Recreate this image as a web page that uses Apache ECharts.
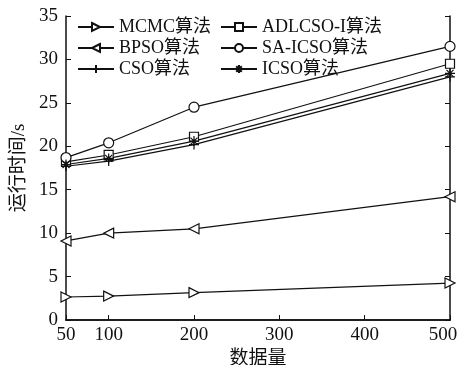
<!DOCTYPE html>
<html><head><meta charset="utf-8">
<script src="https://cdn.jsdelivr.net/npm/echarts@6/dist/echarts.min.js"></script>
<style>html,body{margin:0;padding:0;background:#fff}#c{width:461px;height:365px}</style>
</head><body><div id="c"></div>
<script>
const xValues = [50, 100, 200, 500];
const xTicks = [50, 100, 200, 300, 400, 500];
const yTicks = [0, 5, 10, 15, 20, 25, 30, 35];
const seriesNames = ['MCMC算法', 'ADLCSO-I算法', 'BPSO算法', 'SA-ICSO算法', 'CSO算法', 'ICSO算法'];
const mcmc = [2.65, 2.75, 3.15, 4.25];
const adlcso = [18.2, 19.0, 21.1, 29.5];
const bpso = [9.1, 10.0, 10.5, 14.2];
const saicso = [18.7, 20.4, 24.5, 31.5];
const cso = [17.7, 18.3, 20.2, 28.0];
const icso = [17.9, 18.6, 20.6, 28.4];

const FONT = '"Liberation Serif", "Noto Sans CJK SC", serif';
const sym = {
  'MCMC算法': 'path://M0,0 L10,5 L0,10 Z',
  'BPSO算法': 'path://M10,0 L0,5 L10,10 Z',
  'ADLCSO-I算法': 'rect',
  'SA-ICSO算法': 'circle',
  'CSO算法': 'path://M5,0 L5,10 M0,5 L10,5',
  'ICSO算法': 'path://M5,0 L5,10 M0,5 L10,5 M1.5,1.5 L8.5,8.5 M8.5,1.5 L1.5,8.5'
};
const dataMap = {
  'MCMC算法': mcmc, 'ADLCSO-I算法': adlcso, 'BPSO算法': bpso,
  'SA-ICSO算法': saicso, 'CSO算法': cso, 'ICSO算法': icso
};
const series = seriesNames.map(n => ({
  name: n, type: 'line',
  data: xValues.map((x, i) => [x, dataMap[n][i]]),
  symbol: sym[n],
  symbolSize: n === 'ADLCSO-I算法' ? 9 : 10,
  lineStyle: { color: '#111', width: 1.2 },
  itemStyle: { color: n === 'ICSO算法' || n === 'CSO算法' ? '#111' : '#fff', borderColor: '#111', borderWidth: 1.2 },
  emphasis: { disabled: true },
  animation: false
}));

const legendCommon = {
  orient: 'vertical', itemWidth: 36, itemHeight: 10, itemGap: 3,
  textStyle: { fontFamily: FONT, fontSize: 18, color: '#111' },
  inactiveColor: '#111'
};
const labelStyle = { fontFamily: FONT, fontSize: 19, color: '#111' };
const chart = echarts.init(document.getElementById('c'));
chart.setOption({
  backgroundColor: '#fff',
  animation: false,
  grid: { left: 66, right: 11, top: 16, bottom: 45, outerBoundsMode: 'none', containLabel: false },
  legend: [
    Object.assign({ left: 72, top: 13, data: ['MCMC算法', 'BPSO算法', 'CSO算法'] }, legendCommon),
    Object.assign({ left: 215, top: 13, data: ['ADLCSO-I算法', 'SA-ICSO算法', 'ICSO算法'] }, legendCommon)
  ],
  xAxis: [{
    type: 'value', min: 50, max: 500,
    name: '数据量', nameLocation: 'middle', nameGap: 26,
    nameTextStyle: labelStyle,
    axisLine: { lineStyle: { color: '#111', width: 1.5 } },
    axisTick: { inside: true, length: 5, customValues: xTicks, lineStyle: { color: '#111' } },
    axisLabel: Object.assign({
      customValues: xTicks, margin: 6,
      formatter: v => v === 500 ? '{m|' + v + '}' : String(v),
      rich: { m: Object.assign({ padding: [0, 14, 0, 0] }, labelStyle) }
    }, labelStyle),
    splitLine: { show: false }
  }, {
    type: 'value', min: 50, max: 500, position: 'top',
    axisLine: { show: true, lineStyle: { color: '#111', width: 1.5 } },
    axisTick: { show: false }, axisLabel: { show: false }, splitLine: { show: false }
  }],
  yAxis: [{
    type: 'value', min: 0, max: 35, interval: 5,
    name: '运行时间/s', nameLocation: 'middle', nameGap: 34,
    nameTextStyle: labelStyle,
    axisLine: { show: true, lineStyle: { color: '#111', width: 1.5 } },
    axisTick: { inside: true, length: 5, lineStyle: { color: '#111' } },
    axisLabel: Object.assign({ margin: 8 }, labelStyle),
    splitLine: { show: false }
  }, {
    type: 'value', min: 0, max: 35, interval: 5, position: 'right',
    axisLine: { show: true, lineStyle: { color: '#111', width: 1.5 } },
    axisTick: { show: true, inside: true, length: 5, lineStyle: { color: '#111' } },
    axisLabel: { show: false }, splitLine: { show: false }
  }],
  series: series
});
</script></body></html>
